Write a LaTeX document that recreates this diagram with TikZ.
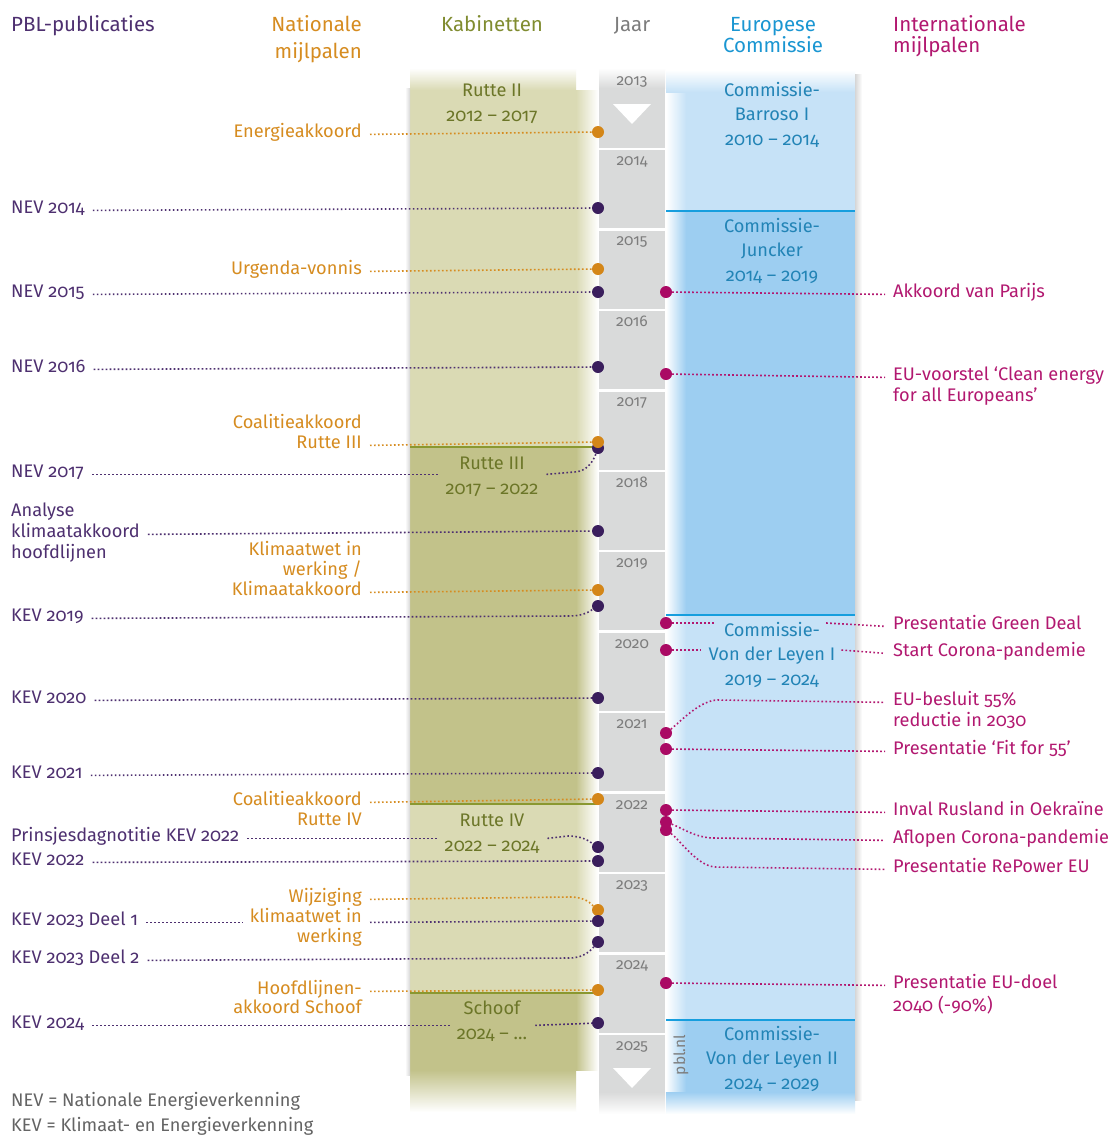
\documentclass[tikz,border=0pt]{standalone}
\usepackage{fontspec}
\setmainfont{Fira Sans}[Numbers={OldStyle,Proportional}]
\usetikzlibrary{calc}
\definecolor{pbltxt}{RGB}{78,48,112}
\definecolor{pbldot}{RGB}{58,30,92}
\definecolor{nattxt}{RGB}{214,140,32}
\definecolor{natdot}{RGB}{212,134,24}
\definecolor{kabhd}{RGB}{128,140,48}
\definecolor{kabtxt}{RGB}{108,118,40}
\definecolor{olL}{RGB}{218,218,180}
\definecolor{olD}{RGB}{194,194,138}
\definecolor{olline}{RGB}{138,152,48}
\definecolor{yrcol}{RGB}{217,218,218}
\definecolor{yrtxt}{RGB}{125,125,125}
\definecolor{blL}{RGB}{198,226,247}
\definecolor{blD}{RGB}{157,206,241}
\definecolor{blline}{RGB}{22,158,222}
\definecolor{bltxt}{RGB}{34,132,182}
\definecolor{blhd}{RGB}{26,150,210}
\definecolor{inttxt}{RGB}{178,24,112}
\definecolor{intdot}{RGB}{170,10,100}
\definecolor{foot}{RGB}{100,100,100}
\tikzset{
 txt/.style={inner sep=0pt, font=\fontsize{18.2}{21}\selectfont},
 hd/.style={inner sep=0pt, font=\fontsize{20.5}{23}\selectfont},
 pl/.style={txt, text=pbltxt, anchor=base west},
 nl/.style={txt, text=nattxt, anchor=base east},
 il/.style={txt, text=inttxt, anchor=base west},
 kl/.style={txt, text=kabtxt, anchor=base},
 cl/.style={txt, text=bltxt, anchor=base},
 fl/.style={txt, text=foot, anchor=base west},
 yl/.style={inner sep=0pt, font=\fontsize{15.5}{17}\selectfont, text=yrtxt, anchor=base},
 pdot/.style={circle, fill=pbldot, minimum size=12pt, inner sep=0pt},
 ndot/.style={circle, fill=natdot, minimum size=12pt, inner sep=0pt},
 idot/.style={circle, fill=intdot, minimum size=12pt, inner sep=0pt},
 dl/.style={line width=1.6pt, dash pattern=on 1.6pt off 2.4pt},
 pc/.style={dl, draw=pbltxt},
 nc/.style={dl, draw=nattxt},
 ic/.style={dl, draw=inttxt},
}
\begin{document}
\begin{tikzpicture}[x=1pt,y=-1pt]
\fill[white] (0,0) rectangle (1111,1136);
\useasboundingbox (0,0) rectangle (1111,1136);
% olive column
\fill[olL] (410,90) rectangle (576,447);
\shade[top color=white, bottom color=olL] (410,68) rectangle (576,90);
\shade[left color=olL, right color=white] (576,90) rectangle (598,447);
\fill[olD] (410,447) rectangle (576,804);
\shade[left color=olD, right color=white] (576,447) rectangle (598,804);
\fill[olL] (410,804) rectangle (576,993);
\shade[left color=olL, right color=white] (576,804) rectangle (598,993);
\fill[olD] (410,993) rectangle (576,1070);
\shade[left color=olD, right color=white] (576,993) rectangle (598,1070);
\shade[top color=olD, bottom color=white] (410,1070) rectangle (576,1112);
\shade[left color=white, right color=black!16] (405,88) rectangle (410,1075);
\draw[olline, line width=2pt] (410,447) -- (598,447);
\draw[olline, line width=2pt] (410,804) -- (598,804);
\draw[olline, line width=2pt] (410,993) -- (598,993);
% year column
\fill[yrcol] (599,88) rectangle (665,1092);
\shade[top color=white, bottom color=yrcol] (599,68) rectangle (665,88);
\shade[top color=yrcol, bottom color=white] (599,1092) rectangle (665,1114);
\foreach \i in {1,...,12} \draw[white, line width=2.5pt] (599,{68.5+80.45*\i}) -- (665,{68.5+80.45*\i});
\foreach \yr [count=\i from 0] in {2013,...,2025} \node[yl] (y\yr) at (632,{85+80.45*\i}) {\yr};
\fill[white] (613,104) -- (651,104) -- (632,124) -- cycle;
\fill[white] (613,1068) -- (651,1068) -- (632,1088) -- cycle;
% blue column
\fill[blL] (686,92) rectangle (855,211);
\shade[left color=white, right color=blL] (666,92) rectangle (686,211);
\shade[top color=white, bottom color=blL] (666,70) rectangle (855,92);
\fill[blD] (686,211) rectangle (855,615);
\shade[left color=white, right color=blD] (666,211) rectangle (686,615);
\fill[blL] (686,615) rectangle (855,1020);
\shade[left color=white, right color=blL] (666,615) rectangle (686,1020);
\fill[blD] (686,1020) rectangle (855,1092);
\shade[left color=white, right color=blD] (666,1020) rectangle (686,1092);
\shade[top color=blD, bottom color=white] (666,1092) rectangle (855,1114);
\shade[left color=black!16, right color=white] (855,74) rectangle (862,1100);
\draw[blline, line width=2pt] (666,211) -- (855,211);
\draw[blline, line width=2pt] (666,615) -- (855,615);
\draw[blline, line width=2pt] (666,1020) -- (855,1020);
\node[yl, anchor=center, rotate=90] (pblnl) at (681,1055) {pbl.nl};
% headers
\node[hd, text=pbltxt, anchor=base west] (hpbl) at (11,31) {PBL-publicaties};
\node[hd, text=nattxt, anchor=base east] (hnat1) at (362,31) {Nationale};
\node[hd, text=nattxt, anchor=base east] (hnat2) at (362,58) {mijlpalen};
\node[hd, text=kabhd, anchor=base] (hkab) at (492,31) {Kabinetten};
\node[hd, text=yrtxt, anchor=base] (hjaar) at (632,31) {Jaar};
\node[hd, text=blhd, anchor=base] (heu1) at (773,31) {Europese};
\node[hd, text=blhd, anchor=base] (heu2) at (773,52) {Commissie};
\node[hd, text=inttxt, anchor=base west] (hint1) at (893,31) {Internationale};
\node[hd, text=inttxt, anchor=base west] (hint2) at (893,52) {mijlpalen};
% cabinets
\node[kl] (r2a) at (492,96) {Rutte II};
\node[kl] (r2b) at (492,121) {2012 – 2017};
\node[kl] (r3a) at (492,469) {Rutte III};
\node[kl] (r3b) at (492,494) {2017 – 2022};
\node[kl] (r4a) at (492,826) {Rutte IV};
\node[kl] (r4b) at (492,851) {2022 – 2024};
\node[kl] (sca) at (492,1014) {Schoof};
\node[kl] (scb) at (492,1039) {2024 – …};
% commissions
\node[cl] (c1a) at (772,96) {Commissie-};
\node[cl] (c1b) at (772,120) {Barroso I};
\node[cl] (c1c) at (772,145) {2010 – 2014};
\node[cl] (c2a) at (772,232) {Commissie-};
\node[cl] (c2b) at (772,256) {Juncker};
\node[cl] (c2c) at (772,281) {2014 – 2019};
\node[cl] (c3a) at (772,636) {Commissie-};
\node[cl] (c3b) at (772,660) {Von der Leyen I};
\node[cl] (c3c) at (772,685) {2019 – 2024};
\node[cl] (c4a) at (772,1040) {Commissie-};
\node[cl] (c4b) at (772,1064) {Von der Leyen II};
\node[cl] (c4c) at (772,1089) {2024 – 2029};
% PBL labels
\node[pl] (t1) at (11,213) {NEV 2014};
\node[pl] (t2) at (11,297) {NEV 2015};
\node[pl] (t3) at (11,372) {NEV 2016};
\node[pl] (t4) at (11,477) {NEV 2017};
\node[pl] (t5a) at (11,516) {Analyse};
\node[pl] (t5b) at (11,537) {klimaatakkoord};
\node[pl] (t5c) at (11,558) {hoofdlijnen};
\node[pl] (t6) at (11,621) {KEV 2019};
\node[pl] (t7) at (11,703) {KEV 2020};
\node[pl] (t8) at (11,778) {KEV 2021};
\node[pl] (t9) at (11,841) {Prinsjesdagnotitie KEV 2022};
\node[pl] (t10) at (11,865) {KEV 2022};
\node[pl] (t11) at (11,925) {KEV 2023 Deel 1};
\node[pl] (t12) at (11,963) {KEV 2023 Deel 2};
\node[pl] (t13) at (11,1028) {KEV 2024};
% national labels
\node[nl] (m1) at (362,137) {Energieakkoord};
\node[nl] (m2) at (362,274) {Urgenda-vonnis};
\node[nl] (m3a) at (362,428) {Coalitieakkoord};
\node[nl] (m3b) at (362,448) {Rutte III};
\node[nl] (m4a) at (362,555) {Klimaatwet in};
\node[nl] (m4b) at (362,575) {werking /};
\node[nl] (m4c) at (362,595) {Klimaatakkoord};
\node[nl] (m5a) at (362,805) {Coalitieakkoord};
\node[nl] (m5b) at (362,825) {Rutte IV};
\node[nl] (m6a) at (362,902) {Wijziging};
\node[nl] (m6b) at (362,922) {klimaatwet in};
\node[nl] (m6c) at (362,942) {werking};
\node[nl] (m7a) at (362,994) {Hoofdlijnen-};
\node[nl] (m7b) at (362,1013) {akkoord Schoof};
% international labels
\node[il] (e1) at (893,297) {Akkoord van Parijs};
\node[il] (e2a) at (893,380) {EU-voorstel ‘Clean energy};
\node[il] (e2b) at (893,401) {for all Europeans’};
\node[il] (e3) at (893,629) {Presentatie Green Deal};
\node[il] (e4) at (893,656) {Start Corona-pandemie};
\node[il] (e5a) at (893,705) {EU-besluit 55\%};
\node[il] (e5b) at (893,726) {reductie in 2030};
\node[il] (e6) at (893,754) {Presentatie ‘Fit for 55’};
\node[il] (e7) at (893,815) {Inval Rusland in Oekraïne};
\node[il] (e8) at (893,843) {Aflopen Corona-pandemie};
\node[il] (e9) at (893,872) {Presentatie RePower EU};
\node[il] (e10a) at (893,988) {Presentatie EU-doel};
\node[il] (e10b) at (893,1011) {2040 (-90\%)};
% footnotes
\node[fl] (f1) at (11,1106) {NEV = Nationale Energieverkenning};
\node[fl] (f2) at (11,1131) {KEV = Klimaat- en Energieverkenning};
% dots
\node[ndot] (n1) at (598,132) {};
\node[pdot] (p1) at (598,208) {};
\node[ndot] (n2) at (598,269) {};
\node[pdot] (p2) at (598,292) {};
\node[pdot] (p3) at (598,367) {};
\node[pdot] (p4) at (598,448) {};
\node[ndot] (n3) at (598,442) {};
\node[pdot] (p5) at (598,531) {};
\node[ndot] (n4) at (598,590) {};
\node[pdot] (p6) at (598,606) {};
\node[pdot] (p7) at (598,698) {};
\node[pdot] (p8) at (598,773) {};
\node[ndot] (n5) at (598,799) {};
\node[pdot] (p9) at (598,847) {};
\node[pdot] (p10) at (598,861) {};
\node[ndot] (n6) at (598,910) {};
\node[pdot] (p11) at (598,921) {};
\node[pdot] (p12) at (598,942) {};
\node[ndot] (n7) at (598,990) {};
\node[pdot] (p13) at (598,1023) {};
\node[idot] (i1) at (666,292) {};
\node[idot] (i2) at (666,374) {};
\node[idot] (i3) at (666,623) {};
\node[idot] (i4) at (666,650) {};
\node[idot] (i5) at (666,733) {};
\node[idot] (i6) at (666,749) {};
\node[idot] (i7) at (666,810) {};
\node[idot] (i8) at (666,822) {};
\node[idot] (i9) at (666,830) {};
\node[idot] (i10) at (666,983) {};
% PBL connectors
\draw[pc] ($(t1.mid east)+(8,0)$) -- (p1);
\draw[pc] ($(t2.mid east)+(8,0)$) -- (p2);
\draw[pc] ($(t3.mid east)+(8,0)$) -- (p3);
\draw[pc] ($(t4.mid east)+(8,0)$) -- ($(r3b.west |- t4.mid east)+(-6,0)$);
\draw[pc] ($(r3b.east |- t4.mid east)+(8,0)$) -- ($(p4)+(-24,24)$) .. controls ($(p4)+(-12,24)$) and ($(p4)+(-5,14)$) .. (p4);
\draw[pc] ($(t5b.mid east)+(8,0)$) -- (p5);
\draw[pc] ($(t6.mid east)+(8,0)$) -- ($(p6)+(-28,10)$) .. controls ($(p6)+(-14,10)$) and ($(p6)+(-8,5)$) .. (p6);
\draw[pc] ($(t7.mid east)+(8,0)$) -- (p7);
\draw[pc] ($(t8.mid east)+(8,0)$) -- (p8);
\draw[pc] ($(t9.mid east)+(8,0)$) -- ($(r4b.west |- t9.mid east)+(-6,0)$);
\draw[pc] ($(r4b.east |- t9.mid east)+(8,0)$) -- ($(p9)+(-30,-11)$) .. controls ($(p9)+(-14,-11)$) and ($(p9)+(-8,-5)$) .. (p9);
\draw[pc] ($(t10.mid east)+(8,0)$) -- (p10);
\draw[pc] ($(t11.mid east)+(8,0)$) -- ($(m6b.west |- t11.mid east)+(-7,0)$);
\draw[pc] ($(m6b.east |- t11.mid east)+(8,0)$) -- (p11);
\draw[pc] ($(t12.mid east)+(8,0)$) -- ($(p12)+(-28,16)$) .. controls ($(p12)+(-14,16)$) and ($(p12)+(-7,8)$) .. (p12);
\draw[pc] ($(t13.mid east)+(8,0)$) -- ($(scb.west |- t13.mid east)+(-6,0)$);
\draw[pc] ($(scb.east |- t13.mid east)+(8,0)$) -- (p13);
% national connectors
\draw[nc] ($(m1.mid east)+(8,0)$) -- (n1);
\draw[nc] ($(m2.mid east)+(8,0)$) -- (n2);
\draw[nc] ($(m3b.mid east)+(8,0)$) -- (n3);
\draw[nc] ($(m4c.mid east)+(8,0)$) -- (n4);
\draw[nc] ($(m5a.mid east)+(8,0)$) -- (n5);
\draw[nc] ($(m6a.mid east)+(8,0)$) -- ($(n6)+(-28,-13)$) .. controls ($(n6)+(-12,-13)$) and ($(n6)+(-7,-6)$) .. (n6);
\draw[nc] ($(m7a.mid east)+(8,0)$) -- (n7);
% international connectors
\draw[ic] (i1) -- ($(e1.mid west)+(-8,0)$);
\draw[ic] (i2) -- ($(e2a.mid west)+(-8,0)$);
\draw[ic] (i3) -- ($(c3a.west |- i3)+(-8,0)$);
\draw[ic] ($(c3a.east |- i3)+(6,0)$) -- ($(e3.mid west)+(-8,0)$);
\draw[ic] (i4) -- ($(c3b.west |- i4)+(-8,0)$);
\draw[ic] ($(c3b.east |- i4)+(6,0)$) -- ($(e4.mid west)+(-8,0)$);
\draw[ic] (i5) .. controls ($(i5)+(14,-11)$) and ($(i5)+(34,-33)$) .. ($(i5)+(52,-33)$) -- ($(e5a.mid west)+(-8,0)$);
\draw[ic] (i6) -- ($(e6.mid west)+(-8,0)$);
\draw[ic] (i7) -- ($(e7.mid west)+(-8,0)$);
\draw[ic] (i8) .. controls ($(i8)+(16,6)$) and ($(i8)+(30,16)$) .. ($(i8)+(48,16)$) -- ($(e8.mid west)+(-8,0)$);
\draw[ic] (i9) .. controls ($(i9)+(14,10)$) and ($(i9)+(32,37)$) .. ($(i9)+(50,37)$) -- ($(e9.mid west)+(-8,0)$);
\draw[ic] (i10) -- ($(e10a.mid west)+(-8,0)$);
\end{tikzpicture}
\end{document}
